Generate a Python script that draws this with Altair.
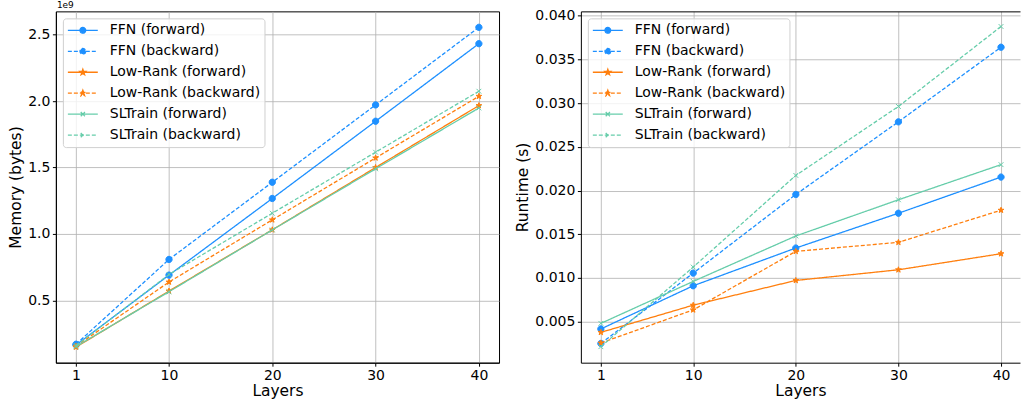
import math
import altair as alt
import pandas as pd

# ---------------- data ----------------
layers = [1, 10, 20, 30, 40]
series_names = [
    "FFN (forward)", "FFN (backward)",
    "Low-Rank (forward)", "Low-Rank (backward)",
    "SLTrain (forward)", "SLTrain (backward)",
]
# memory in bytes
mem_ffn_fwd = [0.164e9, 0.690e9, 1.267e9, 1.848e9, 2.432e9]
mem_ffn_bwd = [0.170e9, 0.808e9, 1.389e9, 1.971e9, 2.555e9]
mem_lr_fwd = [0.148e9, 0.570e9, 1.031e9, 1.500e9, 1.966e9]
mem_lr_bwd = [0.155e9, 0.638e9, 1.106e9, 1.572e9, 2.036e9]
mem_sl_fwd = [0.152e9, 0.565e9, 1.030e9, 1.490e9, 1.948e9]
mem_sl_bwd = [0.160e9, 0.695e9, 1.156e9, 1.615e9, 2.074e9]
# runtime in seconds
rt_ffn_fwd = [0.00416, 0.0091, 0.01342, 0.0174, 0.02154]
rt_ffn_bwd = [0.0025, 0.01055, 0.01955, 0.02786, 0.0364]
rt_lr_fwd = [0.00377, 0.00688, 0.00971, 0.01093, 0.01277]
rt_lr_bwd = [0.00255, 0.00634, 0.01304, 0.01407, 0.01775]
rt_sl_fwd = [0.0048, 0.0096, 0.0148, 0.01894, 0.02296]
rt_sl_bwd = [0.00213, 0.01124, 0.02173, 0.02962, 0.03877]

mem_ticks = [0.5e9, 1.0e9, 1.5e9, 2.0e9, 2.5e9]
rt_ticks = [0.005, 0.010, 0.015, 0.020, 0.025, 0.030, 0.035, 0.040]

# ---------------- styles ----------------
C_FFN, C_LR, C_SL = "#1E90FF", "#FF7F0E", "#66CDAA"
colors = [C_FFN, C_FFN, C_LR, C_LR, C_SL, C_SL]
dashes = [[1, 0], [4, 2]] * 3
FONT = "DejaVu Sans"


def circle_path(r):
    return f"M{r},0A{r},{r},0,1,1,{-r},0A{r},{r},0,1,1,{r},0Z"


def star_path(ro, ri):
    pts = []
    for k in range(10):
        ang = -math.pi / 2 + k * math.pi / 5
        r = ro if k % 2 == 0 else ri
        pts.append(f"{r * math.cos(ang):.4f},{r * math.sin(ang):.4f}")
    return "M" + "L".join(pts) + "Z"


def x_path(h):
    return f"M{-h},{-h}L{h},{h}M{-h},{h}L{h},{-h}"


LINE = "M-1,0H1"
legend_paths = [LINE + circle_path(0.19), LINE + circle_path(0.19),
                LINE + star_path(0.2, 0.08), LINE + star_path(0.2, 0.08),
                LINE + x_path(0.14), LINE + x_path(0.14)]
marker_paths = [circle_path(1.05), circle_path(1.05),
                star_path(1.0, 0.4), star_path(1.0, 0.4),
                x_path(0.8), x_path(0.8)]


def make_df(vals):
    rows = []
    for name, v in zip(series_names, vals):
        for l, y in zip(layers, v):
            rows.append({"layers": l, "value": y, "series": name})
    return pd.DataFrame(rows)


def panel(df, ytitle, ydomain, yticks, ylabel_expr, xdomain, width, right=False, note=None):
    xscale = alt.Scale(domain=xdomain, nice=False, zero=False)
    yscale = alt.Scale(domain=ydomain, nice=False, zero=False)
    xax = alt.Axis(values=layers, title="Layers", format="d", titlePadding=1)
    yax = alt.Axis(values=yticks, title=ytitle, labelExpr=ylabel_expr)
    X = alt.X("layers:Q", scale=xscale, axis=xax)
    Xnone = alt.X("layers:Q", scale=xscale, axis=None)
    Xtop = alt.X("layers:Q", scale=xscale,
                 axis=alt.Axis(orient="top", labels=False, ticks=False, grid=False,
                               domain=True, title=None))
    Y = alt.Y("value:Q", scale=yscale, axis=yax)
    base = alt.Chart(df)

    layer_list = []
    for i, name in enumerate(series_names):
        sub = base.transform_filter(alt.FieldEqualPredicate(field="series", equal=name))
        if right:
            xl = X if i == 0 else Xnone
            xp = Xtop if i == 0 else Xnone
        else:
            xl = xp = X
        line = sub.mark_line(strokeWidth=1.3, clip=True, color=colors[i],
                             strokeDash=dashes[i]).encode(x=xl, y=Y)
        pts = sub.mark_point(shape=marker_paths[i], filled=True, size=36, strokeWidth=1,
                             opacity=1, fill=colors[i], stroke=colors[i]).encode(x=xp, y=Y)
        layer_list += [line, pts]

    leg = alt.Legend(
        title=None, orient="top-left", offset=7, padding=4, clipHeight=16,
        symbolSize=900, symbolStrokeWidth=1.3, labelOffset=11,
        labelFont=FONT, labelFontSize=14, labelColor="black",
        rowPadding=5, fillColor="rgba(255,255,255,0.8)",
        strokeColor="#d0d0d0", cornerRadius=3, symbolOpacity=1,
    )
    fill_scale = alt.Scale(domain=series_names, range=colors)
    carrier = base.transform_filter("false").mark_point(
        filled=True, strokeWidth=1.3, opacity=1
    ).encode(
        x=Xnone if right else X, y=Y,
        fill=alt.Fill("series:N", scale=fill_scale, legend=leg),
        stroke=alt.Stroke("series:N", scale=fill_scale, legend=leg),
        strokeDash=alt.StrokeDash("series:N", scale=alt.Scale(domain=series_names, range=dashes),
                                  legend=leg),
        shape=alt.Shape("series:N", scale=alt.Scale(domain=series_names, range=legend_paths),
                        legend=leg),
    )
    layer_list.append(carrier)

    if note is not None:
        txt = alt.Chart(pd.DataFrame({"t": [note]})).mark_text(
            align="left", baseline="bottom", font=FONT, fontSize=9, color="black"
        ).encode(text="t:N", x=alt.value(1), y=alt.value(-1.5))
        layer_list.append(txt)
    ch = alt.layer(*layer_list).properties(width=width, height=352)
    if right:
        ch = ch.resolve_axis(x="independent").properties(
            view=alt.ViewBackground(stroke="transparent"))
    return ch


mem_df = make_df([mem_ffn_fwd, mem_ffn_bwd, mem_lr_fwd, mem_lr_bwd, mem_sl_fwd, mem_sl_bwd])
rt_df = make_df([rt_ffn_fwd, rt_ffn_bwd, rt_lr_fwd, rt_lr_bwd, rt_sl_fwd, rt_sl_bwd])

left = panel(mem_df, "Memory (bytes)", [0.031e9, 2.675e9], mem_ticks,
             "format(datum.value / 1e9, '.1f')", [-0.95, 41.95], 444, note="1e9")
right = panel(rt_df, "Runtime (s)", [0.0003, 0.0405], rt_ticks,
              "format(datum.value, '.3f')", [-0.95, 41.85], 440, right=True)

chart = (
    alt.hconcat(left, right, spacing=82, bounds="flush")
    .resolve_scale(fill="independent", stroke="independent",
                   shape="independent", strokeDash="independent")
    .properties(padding={"left": 8, "top": 0, "right": 0, "bottom": 0}, background="white")
    .configure_view(stroke="black", strokeWidth=1)
    .configure_axis(
        labelFont=FONT, labelFontSize=14, labelColor="black",
        titleFont=FONT, titleFontSize=15.5, titleColor="black", titleFontWeight="normal",
        tickColor="black", tickSize=3.5, tickWidth=1, domainColor="black", domainWidth=1,
        labelPadding=2.5, titlePadding=4,
        gridColor="#b0b0b0", gridWidth=1, gridOpacity=0.8,
    )
)

chart.save("out.html", embed_options={"renderer": "svg", "actions": False})
